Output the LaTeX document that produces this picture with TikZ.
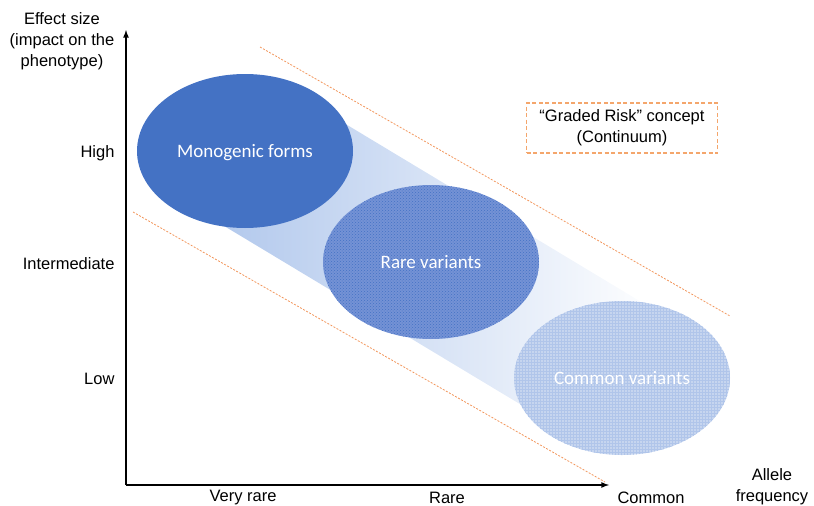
\documentclass[tikz,border=0pt]{standalone}
\usepackage{fontspec}
\setmainfont{Liberation Sans}
\newfontfamily\calibri{Carlito}
\usetikzlibrary{shapes.geometric, patterns}

\definecolor{monoblue}{RGB}{68,114,196}
\definecolor{rareblue}{RGB}{116,146,213}
\definecolor{commonblue}{RGB}{198,213,239}
\definecolor{gridblue}{RGB}{176,197,234}
\definecolor{bandblue}{RGB}{176,199,236}
\definecolor{dashorange}{RGB}{242,150,92}
\definecolor{boxorange}{RGB}{244,166,108}

\tikzset{
  blob/.style={ellipse, minimum width=216, minimum height=154, inner sep=0pt,
    text=white, text depth=0pt, font=\calibri\fontsize{19}{22}\selectfont},
  lab/.style={font=\fontsize{16.5}{21}\selectfont, align=center},
  guide/.style={dashorange, line width=0.8pt, dash pattern=on 2pt off 1.5pt}
}

\begin{document}
\begin{tikzpicture}[x=1pt, y=-1pt]
\useasboundingbox (0,0) rectangle (814,506);
\coordinate (c1) at (245,151);
\coordinate (c2) at (431,262);
\coordinate (c3) at (622,378);
% light band running from one blob to the next
\begin{scope}[shift={(c1)}, rotate=-31.05]
\shade[left color=bandblue, right color=white] (0,-75) rectangle (440,75);
\end{scope}
\node[blob, fill=monoblue] (mono) at (c1) {Monogenic forms};
\node[blob, fill=rareblue, postaction={pattern=crosshatch dots, pattern color=monoblue}] (rare) at (c2) {Rare variants};
\node[blob, fill=commonblue, postaction={pattern=grid, pattern color=gridblue}] (common) at (c3) {Common variants};
% dashed borders of the band
\coordinate (u1) at (260,47);
\coordinate (u2) at (730,316);
\coordinate (l1) at (133,212);
\coordinate (l2) at (605,482);
\draw[guide] (u1) -- (u2);
\draw[guide] (l1) -- (l2);
\node[lab, draw=boxorange, line width=1.1pt, dash pattern=on 4pt off 2.5pt,
  minimum width=191, minimum height=50] (graded) at (622,128) {``Graded Risk'' concept\\(Continuum)};
% axes
\coordinate (origin) at (126,485);
\coordinate (ytip) at (126,30);
\coordinate (xtip) at (609,485);
\draw[line width=1.6pt, ->, >=latex] (origin) -- (ytip);
\draw[line width=1.6pt, ->, >=latex] (origin) -- (xtip);
\node[lab] (ylab) at (62,41) {Effect size\\(impact on the\\phenotype)};
\node[lab, anchor=east] (high) at (118,153) {High};
\node[lab, anchor=east] (mid) at (118,264) {Intermediate};
\node[lab, anchor=east] (low) at (118,379) {Low};
\node[lab] (vrare) at (243,498) {Very rare};
\node[lab] (rarelab) at (447,498) {Rare};
\node[lab] (comlab) at (651,498) {Common};
\node[lab] (xlab) at (772,487) {Allele\\frequency};
\end{tikzpicture}
\end{document}
